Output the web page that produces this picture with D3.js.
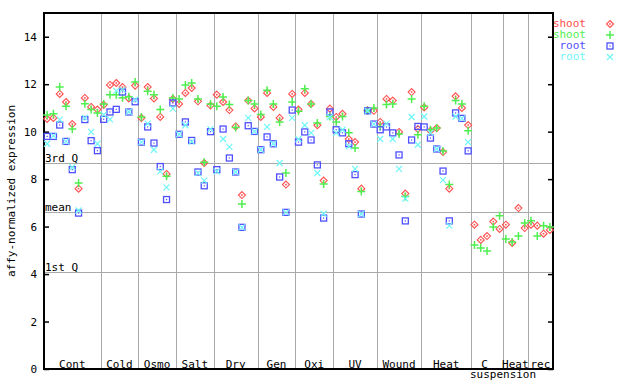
<!DOCTYPE html>
<html>
<head>
<meta charset="utf-8">
<script src="https://cdn.jsdelivr.net/npm/d3@7"></script>
<style>
  html, body { margin: 0; padding: 0; background: #fff; }
  svg { display: block; }
  text { font-family: "DejaVu Sans Mono", monospace; font-size: 11px; fill: #000; }
</style>
</head>
<body>
<svg id="chart" width="640" height="384"></svg>
<script>
// ---- data ----
const groupNames = ["Cont", "Cold", "Osmo", "Salt", "Dry", "Gen", "Oxi", "UV", "Wound", "Heat", "C", "Heat", "rec"];
const groupSizes = [9, 6, 6, 6, 7, 6, 6, 7, 7, 8, 5, 4, 4];
const groupSubLabels = ["", "", "", "", "", "", "", "", "", "", "suspension", "", ""];

const shootRed = [
  10.54, 10.58, 11.59, 11.25, 10.32, 7.60, 11.42, 11.04, 10.93,
  11.13, 11.97, 12.05, 11.88, 11.40, 11.94,
  10.58, 11.88, 11.40, 10.62, 8.22, 11.38,
  11.17, 11.63, 11.84, 11.28, 8.68, 11.10,
  11.56, 11.25, 10.91, 10.22, 7.33, 11.31, 10.98,
  10.62, 11.63, 11.04, 10.58, 7.77, 11.59,
  10.93, 11.63, 11.17, 10.27, 7.94, 10.97,
  10.62, 10.75, 9.69, 9.56, 7.60, 10.90, 10.88,
  10.41, 11.38, 11.31, 9.99, 7.39, 11.67, 10.11,
  11.02, 10.04, 10.15, 9.14, 7.60, 11.49, 11.00, 10.28,
  6.08, 5.44, 5.60, 6.21, 5.90,
  6.08, 5.31, 6.78, 5.94,
  6.08, 6.04, 5.70, 5.86
];
const shootGreen = [
  10.70, 10.75, 11.88, 11.07, 10.11, 7.84, 11.18, 10.93, 10.79,
  11.17, 11.56, 11.56, 11.43, 11.47, 12.09,
  10.62, 11.70, 11.56, 10.93, 8.12, 11.42,
  11.38, 11.97, 12.05, 11.38, 8.71, 11.17,
  11.07, 11.46, 11.14, 10.18, 6.95, 11.31, 11.17,
  10.72, 11.74, 11.17, 10.41, 8.26, 11.25,
  10.86, 11.81, 11.17, 10.37, 7.80, 10.64,
  10.41, 10.64, 9.95, 9.31, 7.48, 10.88, 11.00,
  10.22, 11.14, 11.17, 9.90, 7.27, 11.38, 9.87,
  11.07, 10.08, 10.15, 9.19, 7.77, 11.31, 11.17, 10.04,
  5.22, 5.10, 4.97, 5.98, 6.46,
  5.48, 5.35, 5.60, 6.15,
  6.25, 5.60, 6.04, 5.98
];
const rootBlue = [
  9.80, 9.80, 10.28, 9.59, 8.40, 6.57, 10.51, 9.62, 9.20,
  10.52, 10.83, 10.94, 11.67, 10.83, 11.26,
  9.56, 10.20, 9.52, 8.53, 7.14, 11.21,
  9.89, 10.41, 9.63, 8.30, 7.72, 10.00,
  8.40, 10.11, 8.89, 8.30, 5.97, 10.25, 10.01,
  9.24, 9.78, 9.49, 8.09, 6.60, 10.91,
  9.56, 9.99, 9.65, 8.60, 6.36, 10.83,
  10.08, 9.95, 9.49, 8.19, 6.53, 10.88, 10.32,
  10.08, 10.20, 9.95, 9.02, 6.24, 9.65, 10.22,
  10.20, 9.73, 9.27, 8.34, 6.24, 10.79, 10.56, 9.19,
  null, null, null, null, null,
  null, null, null, null,
  null, null, null, null
];
const rootCyan = [
  9.49, 9.82, 10.51, 9.59, 8.50, 6.68, 10.58, 9.99, 9.49,
  10.72, 10.52, 11.72, 11.77, 10.84, 11.35,
  9.56, 10.34, 9.24, 8.33, 7.65, 10.97,
  9.89, 10.27, 9.58, 8.25, 7.94, 10.11,
  8.33, 9.69, 9.36, 8.30, 5.97, 10.58, 10.01,
  9.24, 10.20, 9.49, 8.68, 6.60, 10.58,
  9.69, 10.27, 9.95, 8.26, 6.54, 10.62,
  9.95, 10.08, 9.38, 8.43, 6.53, 10.88, 10.32,
  9.69, 10.34, 9.69, 8.43, 7.18, 10.62, 9.45,
  10.64, 9.95, 9.27, 7.96, 6.04, 10.64, 10.56, 9.56,
  null, null, null, null, null,
  null, null, null, null,
  null, null, null, null
];
const seriesNames = ["shoot", "shoot", "root", "root"];
const seriesColors = ["#ff4f4f", "#4fef4f", "#4f4fff", "#6ff7f7"];
const seriesShapes = ["diamond", "plus", "square", "cross"];
const yTicks = [0, 2, 4, 6, 8, 10, 12, 14];
const refValues = [8.69, 6.62, 4.09];
const refLabels = ["3rd Q", "mean", "1st Q"];
const yTitle = "affy-normalized expression";

// ---- layout ----
const svg = d3.select("#chart");
const L = 44, R = 553, T = 13, B = 369;
const nSlots = d3.sum(groupSizes);
const x = d3.scaleLinear().domain([0, nSlots]).range([L, R]);
const y = d3.scaleLinear().domain([0, 15]).range([B, T]);

// group boundaries
const starts = [];
let acc = 0;
groupSizes.forEach(s => { starts.push(acc); acc += s; });

// vertical dividers
svg.append("g").selectAll("line")
  .data(starts.slice(1))
  .join("line")
  .attr("x1", d => Math.round(x(d)) + 0.5).attr("x2", d => Math.round(x(d)) + 0.5)
  .attr("y1", T).attr("y2", B)
  .attr("stroke", "#aaaaaa").attr("stroke-width", 1);

// reference lines
svg.append("g").selectAll("line")
  .data(refValues)
  .join("line")
  .attr("x1", L).attr("x2", R)
  .attr("y1", d => Math.round(y(d)) + 0.5).attr("y2", d => Math.round(y(d)) + 0.5)
  .attr("stroke", "#aaaaaa").attr("stroke-width", 1);
svg.append("g").selectAll("text")
  .data(refValues)
  .join("text")
  .attr("x", L + 1)
  .attr("y", d => Math.round(y(d)) - 1)
  .text((d, i) => refLabels[i]);

// axes
const yAxisL = d3.axisLeft(y).tickValues(yTicks).tickSizeInner(-5).tickSizeOuter(0).tickPadding(7);
const gL = svg.append("g").attr("transform", `translate(${L},0)`).call(yAxisL);
gL.select(".domain").remove();
gL.selectAll("line").attr("stroke", "#000").attr("stroke-width", 1.5);
gL.selectAll("text").attr("font-family", "DejaVu Sans Mono").attr("font-size", 11).attr("fill", "#000");

const yAxisR = d3.axisRight(y).tickValues(yTicks).tickSizeInner(-5).tickSizeOuter(0).tickFormat("");
const gR = svg.append("g").attr("transform", `translate(${R},0)`).call(yAxisR);
gR.select(".domain").remove();
gR.selectAll("line").attr("stroke", "#000").attr("stroke-width", 1.5);

// frame
svg.append("rect").attr("x", L).attr("y", T).attr("width", R - L).attr("height", B - T)
  .attr("fill", "none").attr("stroke", "#000").attr("stroke-width", 2);

// y title
svg.append("text")
  .attr("transform", "translate(15,191) rotate(-90)")
  .attr("text-anchor", "middle")
  .text(yTitle);

// group labels
svg.append("g").selectAll("text")
  .data(groupNames)
  .join("text")
  .attr("x", (d, i) => x(starts[i] + groupSizes[i] / 2) - (groupSubLabels[i] ? 2.5 : 0))
  .attr("y", 368)
  .attr("text-anchor", "middle")
  .text(d => d);
svg.append("g").selectAll("text")
  .data(groupSubLabels.map((s, i) => ({ s, i })).filter(d => d.s))
  .join("text")
  .attr("x", d => x(starts[d.i] + groupSizes[d.i] / 2) + 16)
  .attr("y", 378)
  .attr("text-anchor", "middle")
  .text(d => d.s);

// marker drawing
function drawMarker(g, shape, color) {
  if (shape === "diamond") {
    g.append("path").attr("d", "M0,-3.5L3.5,0L0,3.5L-3.5,0Z")
      .attr("fill", "none").attr("stroke", color).attr("stroke-width", 1.1);
    g.append("rect").attr("x", -0.8).attr("y", -0.8).attr("width", 1.6).attr("height", 1.6).attr("fill", color);
  } else if (shape === "plus") {
    g.append("path").attr("d", "M-4,0H4M0,-4V4")
      .attr("stroke", color).attr("stroke-width", 1.5);
  } else if (shape === "square") {
    g.append("rect").attr("x", -3).attr("y", -3).attr("width", 6).attr("height", 6)
      .attr("fill", "none").attr("stroke", color).attr("stroke-width", 1.3);
    g.append("rect").attr("x", -0.6).attr("y", -0.6).attr("width", 1.2).attr("height", 1.2).attr("fill", color);
  } else {
    g.append("path").attr("d", "M-3,-3L3,3M-3,3L3,-3")
      .attr("stroke", color).attr("stroke-width", 1.2);
  }
}

const allSeries = [shootRed, shootGreen, rootBlue, rootCyan];
allSeries.forEach((vals, si) => {
  const pts = vals.map((v, i) => ({ v, i })).filter(d => d.v !== null);
  svg.append("g").selectAll("g")
    .data(pts)
    .join("g")
    .attr("transform", d => `translate(${x(d.i + 0.5)},${y(d.v)})`)
    .each(function () { drawMarker(d3.select(this), seriesShapes[si], seriesColors[si]); });
});

// legend
const lg = svg.append("g");
seriesNames.forEach((name, i) => {
  lg.append("text").attr("x", 586).attr("y", 27 + i * 11)
    .attr("text-anchor", "end").attr("fill", seriesColors[i]).style("fill", seriesColors[i])
    .text(name);
  const m = lg.append("g").attr("transform", `translate(610,${24 + i * 11})`);
  drawMarker(m, seriesShapes[i], seriesColors[i]);
});
</script>
</body>
</html>
